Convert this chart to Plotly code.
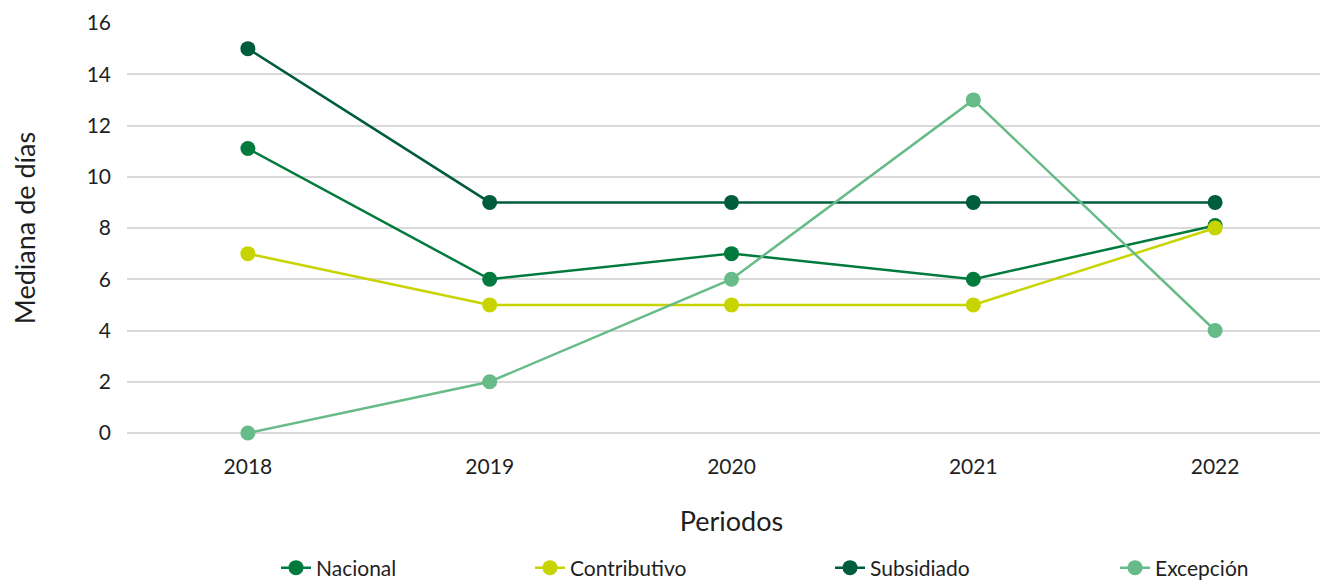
import plotly.graph_objects as go

periodos = ["2018", "2019", "2020", "2021", "2022"]
nacional = [11.1, 6, 7, 6, 8.1]
contributivo = [7, 5, 5, 5, 8]
subsidiado = [15, 9, 9, 9, 9]
excepcion = [0, 2, 6, 13, 4]

series = [
    ("Nacional", nacional, "#007A3D", "legend", 258),
    ("Contributivo", contributivo, "#C8D400", "legend2", 512),
    ("Subsidiado", subsidiado, "#005C3E", "legend3", 812),
    ("Excepción", excepcion, "#66BB88", "legend4", 1097),
]

fig = go.Figure()
for name, vals, color, lg, _ in series:
    fig.add_trace(go.Scatter(
        x=periodos, y=vals, name=name, mode="lines+markers",
        line=dict(color=color, width=2.5),
        marker=dict(color=color, size=15),
        legend=lg, cliponaxis=False,
    ))

font = dict(family="Lato, Noto Sans, sans-serif", color="#1f1f1f")
legends = {}
for name, vals, color, lg, px in series:
    legends[lg] = dict(
        x=(px + 10) / 1328, xref="container", xanchor="left",
        y=22 / 582, yref="container", yanchor="middle",
        orientation="h", bgcolor="rgba(0,0,0,0)",
        font=dict(size=21, **font), itemwidth=30,
    )

fig.update_layout(
    width=1328, height=582,
    margin=dict(l=119, r=0, t=15, b=157, autoexpand=False),
    plot_bgcolor="white", paper_bgcolor="white",
    font=dict(size=21, **font),
    showlegend=True,
    **legends,
)
fig.update_xaxes(
    type="category", range=[-0.5, 4.5], showgrid=False, showline=False, zeroline=False,
    ticks="", ticklabelstandoff=19, tickfont=dict(size=21, **font),
    title=dict(text="Periodos", font=dict(size=27, **font), standoff=35),
)
fig.update_yaxes(
    range=[0, 16], dtick=2, showgrid=True, gridcolor="#D9D9D9", gridwidth=2,
    zeroline=True, zerolinecolor="#D9D9D9", zerolinewidth=2, showline=False,
    ticklabelstandoff=15, tickfont=dict(size=21, **font),
    title=dict(text="Mediana de días", font=dict(size=27, **font), standoff=48),
)

fig.write_html("out.html")
